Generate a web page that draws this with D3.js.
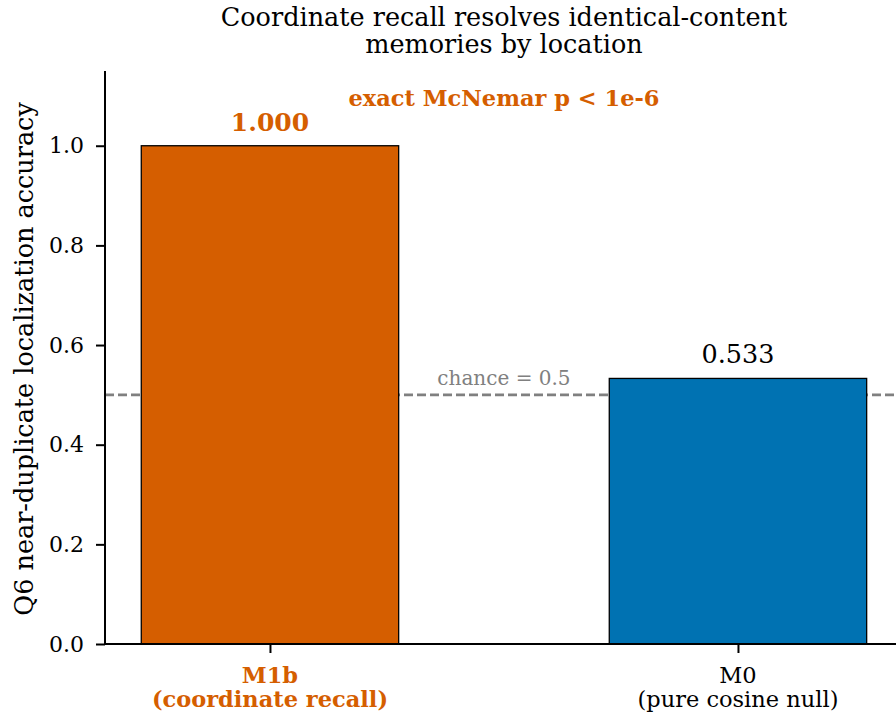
<!DOCTYPE html>
<html>
<head>
<meta charset="utf-8">
<script src="https://cdn.jsdelivr.net/npm/d3@7"></script>
<style>
  body { margin: 0; background: #fff; }
  svg { display: block; font-family: "DejaVu Serif", serif; }
</style>
</head>
<body>
<div id="chart"></div>
<script>
// data
var models = ['M1b', 'M0']
var modelNotes = ['(coordinate recall)', '(pure cosine null)']
var accuracy = [1.000, 0.533]
var barColors = ['#D55E00', '#0072B2']
var yTicks = [0.0, 0.2, 0.4, 0.6, 0.8, 1.0]
var chance = 0.5

var W = 896, H = 712
var margin = { top: 71, left: 105, bottom: 68 }
var plotBottom = H - margin.bottom

var svg = d3.select('#chart').append('svg')
    .attr('width', W)
    .attr('height', H)

// x runs in bar index units, like matplotlib (-0.3525 .. 1.3525)
var x = d3.scaleLinear()
    .domain([-0.3525, 1.3525])
    .range([margin.left, margin.left + 1.705 * 468])

var y = d3.scaleLinear()
    .domain([0, 1.15])
    .range([plotBottom, margin.top])

var barW = 0.55

// chance line
svg.append('line')
    .attr('x1', margin.left)
    .attr('x2', W)
    .attr('y1', y(chance))
    .attr('y2', y(chance))
    .attr('stroke', '#808080')
    .attr('stroke-width', 2.6)
    .attr('stroke-dasharray', '9,4')

svg.append('text')
    .text('chance = 0.5')
    .attr('x', x(0.5))
    .attr('y', y(chance) - 10)
    .attr('text-anchor', 'middle')
    .attr('fill', '#808080')
    .attr('font-size', 20)

// bars
svg.selectAll('rect.bar')
    .data(accuracy)
    .enter().append('rect')
    .attr('class', 'bar')
    .attr('x', function (d, i) { return x(i - barW / 2) })
    .attr('width', function () { return x(barW) - x(0) })
    .attr('y', function (d) { return y(d) })
    .attr('height', function (d) { return y(0) - y(d) })
    .attr('fill', function (d, i) { return barColors[i] })
    .attr('stroke', '#000')
    .attr('stroke-width', 1.3)

// value labels
svg.selectAll('text.val')
    .data(accuracy)
    .enter().append('text')
    .attr('class', 'val')
    .text(function (d) { return d3.format('.3f')(d) })
    .attr('x', function (d, i) { return x(i) })
    .attr('y', function (d) { return y(d) - 15 })
    .attr('text-anchor', 'middle')
    .attr('font-size', function (d, i) { return i == 0 ? 25 : 25.5 })
    .attr('font-weight', function (d, i) { return i == 0 ? 'bold' : 'normal' })
    .attr('fill', function (d, i) { return i == 0 ? barColors[0] : '#000' })

svg.append('text')
    .text('exact McNemar p < 1e-6')
    .attr('x', x(0.5))
    .attr('y', 106)
    .attr('text-anchor', 'middle')
    .attr('font-size', 22.5)
    .attr('font-weight', 'bold')
    .attr('fill', barColors[0])

// y axis
var yAxis = d3.axisLeft(y)
    .tickValues(yTicks)
    .tickFormat(d3.format('.1f'))
    .tickSize(9)
    .tickPadding(12)

var gy = svg.append('g')
    .attr('transform', 'translate(' + margin.left + ',0)')
    .call(yAxis)
gy.select('.domain').attr('stroke-width', 2).attr('d', 'M0,' + y(0) + 'V' + y(1.15))
gy.selectAll('.tick line').attr('stroke-width', 2)
gy.selectAll('.tick text')
    .attr('font-family', '"DejaVu Serif", serif')
    .attr('font-size', 22)
    .attr('fill', '#000')

// x axis
var xAxis = d3.axisBottom(x)
    .tickValues([0, 1])
    .tickFormat('')
    .tickSize(9)

var gx = svg.append('g')
    .attr('transform', 'translate(0,' + plotBottom + ')')
    .call(xAxis)
gx.select('.domain').attr('stroke-width', 2).attr('d', 'M' + margin.left + ',0H' + W)
gx.selectAll('.tick line').attr('stroke-width', 2)

var xLabels = svg.selectAll('text.xlab')
    .data(models)
    .enter().append('text')
    .attr('class', 'xlab')
    .attr('x', function (d, i) { return x(i) })
    .attr('y', 683)
    .attr('text-anchor', 'middle')
    .attr('font-size', 22.5)
    .attr('font-weight', function (d, i) { return i == 0 ? 'bold' : 'normal' })
    .attr('fill', function (d, i) { return i == 0 ? barColors[0] : '#000' })

xLabels.append('tspan')
    .attr('x', function (d, i) { return x(i) })
    .text(function (d) { return d })
xLabels.append('tspan')
    .attr('x', function (d, i) { return x(i) })
    .attr('dy', 23.5)
    .text(function (d, i) { return modelNotes[i] })

// y label
svg.append('text')
    .text('Q6 near-duplicate localization accuracy')
    .attr('transform', 'translate(33,' + y(0.572) + ') rotate(-90)')
    .attr('text-anchor', 'middle')
    .attr('font-size', 25.5)

// title
var title = svg.append('text')
    .attr('text-anchor', 'middle')
    .attr('font-size', 25.5)
title.append('tspan').attr('x', x(0.5)).attr('y', 26).text('Coordinate recall resolves identical-content')
title.append('tspan').attr('x', x(0.5)).attr('y', 53).text('memories by location')
</script>
</body>
</html>
